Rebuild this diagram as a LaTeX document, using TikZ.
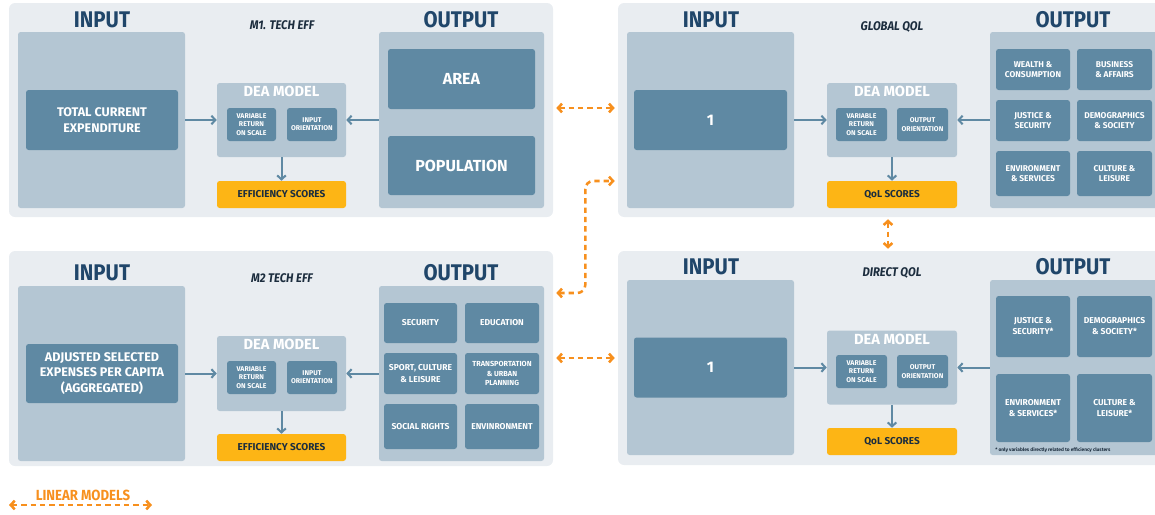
\documentclass[tikz,border=0pt]{standalone}
\usepackage{fontspec}
\setmainfont{Fira Sans}
\newfontfamily\headfont{Fira Sans}[FakeStretch=0.9]
\usetikzlibrary{arrows.meta}

\definecolor{panelbg}{HTML}{E9EDF1}
\definecolor{colbg}{HTML}{B4C6D3}
\definecolor{boxblue}{HTML}{5F89A3}
\definecolor{navy}{HTML}{20466A}
\definecolor{inkdark}{HTML}{1C2D3E}
\definecolor{scoreyel}{HTML}{FDB515}
\definecolor{linkorg}{HTML}{F7901E}

\tikzset{
  sz/.style 2 args={minimum width=#1*0.75pt, minimum height=#2*0.75pt},
  panel/.style={fill=panelbg, rounded corners=4.5pt, inner sep=0pt},
  column/.style={fill=colbg, rounded corners=2pt, inner sep=0pt},
  databox/.style={fill=boxblue, rounded corners=2pt, inner sep=0pt, align=center,
    text=white, font=\bfseries\fontsize{9.4}{11.8}\selectfont},
  catbox/.style={databox, font=\bfseries\fontsize{6.3}{7.8}\selectfont},
  subbox/.style={databox, font=\bfseries\fontsize{5.2}{6.2}\selectfont},
  scorebox/.style={fill=scoreyel, rounded corners=2pt, inner sep=0pt,
    text=inkdark, font=\bfseries\fontsize{7.5}{8.5}\selectfont},
  head/.style={anchor=base, inner sep=0pt, text=navy, font=\headfont\bfseries\fontsize{17}{19}\selectfont},
  dealabel/.style={anchor=base, inner sep=0pt, text=white, font=\bfseries\fontsize{11}{13}\selectfont},
  modelname/.style={anchor=base, inner sep=0pt, text=inkdark, font=\headfont\bfseries\itshape\fontsize{9.4}{11}\selectfont},
  flow/.style={->, draw=boxblue, line width=1.5pt},
  link/.style={<->, draw=linkorg, line width=1.9pt, dash pattern=on 4pt off 3pt}
}

\begin{document}
\begin{tikzpicture}[x=0.75pt, y=-0.75pt, >={Straight Barb[length=3pt,width=6.5pt]}]
\useasboundingbox (0,0) rectangle (1155,514);

% 四个面板
\node[panel, sz={544}{214}] (m1) at (281,110) {};
\node[panel, sz={547}{214}] (gq) at (891.5,110) {};
\node[panel, sz={544}{215}] (m2) at (281,358.5) {};
\node[panel, sz={547}{214}] (dq) at (891.5,358) {};

% M1. TECH EFF
\node[head] (m1inhead) at (102,27.3) {INPUT};
\node[head] (m1outhead) at (461,27.3) {OUTPUT};
\node[modelname] (m1name) at (282,29.3) {M1. TECH EFF};
\node[column, sz={167}{176}] (m1in) at (101.5,120) {};
\node[databox, sz={152}{60}] (m1inbox) at (102,120) {TOTAL CURRENT\\EXPENDITURE};
\node[column, sz={129}{74}] (m1dea) at (281.5,120) {};
\node[dealabel] (m1dealabel) at (281.5,96.7) {DEA MODEL};
\node[subbox, sz={49}{33}] (m1vrs) at (251.5,124.5) {VARIABLE\\RETURN\\ON SCALE};
\node[subbox, sz={50}{33}] (m1ori) at (312,124.5) {INPUT\\ORIENTATION};
\node[scorebox, sz={129}{27}] (m1score) at (281.5,194.5) {EFFICIENCY SCORES};
\node[column, sz={165}{176}] (m1out) at (461.5,120) {};
\node[databox, font=\bfseries\fontsize{12}{14}\selectfont, sz={147}{60}] (m1area) at (461.5,79) {AREA};
\node[databox, font=\bfseries\fontsize{12}{14}\selectfont, sz={147}{59}] (m1pop) at (461.5,165.5) {POPULATION};
\draw[flow] (m1in) -- (m1dea);
\draw[flow] (m1out) -- (m1dea);
\draw[flow] (m1dea) -- (m1score);

% GLOBAL QOL
\node[head] (gqinhead) at (711,27.3) {INPUT};
\node[head] (gqouthead) at (1073,27.3) {OUTPUT};
\node[modelname] (gqname) at (892,30) {GLOBAL QOL};
\node[column, sz={167}{176}] (gqin) at (710.5,120) {};
\node[databox, font=\bfseries\fontsize{11.5}{14}\selectfont, sz={153}{60}] (gqone) at (710.5,120) {1};
\node[column, sz={130}{74}] (gqdea) at (892,120) {};
\node[dealabel] (gqdealabel) at (892,96.7) {DEA MODEL};
\node[subbox, sz={51}{33}] (gqvrs) at (861.5,124.5) {VARIABLE\\RETURN\\ON SCALE};
\node[subbox, sz={51}{33}] (gqori) at (922.5,124.5) {OUTPUT\\ORIENTATION};
\node[scorebox, sz={130}{27}] (gqscore) at (892,194.5) {QoL SCORES};
\node[column, sz={170}{176}] (gqout) at (1075,120) {};
\node[catbox, sz={74}{41}] (gqwealth) at (1033,69.5) {WEALTH \&\\CONSUMPTION};
\node[catbox, sz={75}{41}] (gqbusiness) at (1114.5,69.5) {BUSINESS\\\& AFFAIRS};
\node[catbox, sz={74}{41}] (gqjustice) at (1033,120.5) {JUSTICE \&\\SECURITY};
\node[catbox, sz={75}{41}] (gqdemo) at (1114.5,120.5) {DEMOGRAPHICS\\\& SOCIETY};
\node[catbox, sz={74}{45}] (gqenv) at (1033,173.5) {ENVIRONMENT\\\& SERVICES};
\node[catbox, sz={75}{45}] (gqculture) at (1114.5,173.5) {CULTURE \&\\LEISURE};
\draw[flow] (gqin) -- (gqdea);
\draw[flow] (gqout) -- (gqdea);
\draw[flow] (gqdea) -- (gqscore);

% M2 TECH EFF
\node[head] (m2inhead) at (102,280.7) {INPUT};
\node[head] (m2outhead) at (461,280.7) {OUTPUT};
\node[modelname] (m2name) at (282,282.3) {M2 TECH EFF};
\node[column, sz={167}{175}] (m2in) at (101.5,373.5) {};
\node[databox, font=\bfseries\fontsize{9.4}{11.5}\selectfont, sz={152}{59}] (m2inbox) at (102,373.5) {ADJUSTED SELECTED\\EXPENSES PER CAPITA\\(AGGREGATED)};
\node[column, sz={129}{75}] (m2dea) at (281.5,373.5) {};
\node[dealabel] (m2dealabel) at (281.5,349) {DEA MODEL};
\node[subbox, sz={49}{33}] (m2vrs) at (251.5,377.5) {VARIABLE\\RETURN\\ON SCALE};
\node[subbox, sz={50}{33}] (m2ori) at (312,377.5) {INPUT\\ORIENTATION};
\node[scorebox, sz={129}{27}] (m2score) at (281.5,447.5) {EFFICIENCY SCORES};
\node[column, sz={165}{175}] (m2out) at (461.5,373.5) {};
\node[catbox, font=\bfseries\fontsize{6.4}{8.4}\selectfont, sz={73}{40}] (m2security) at (420.5,323) {SECURITY};
\node[catbox, font=\bfseries\fontsize{6.4}{8.4}\selectfont, sz={74}{40}] (m2education) at (502,323) {EDUCATION};
\node[catbox, font=\bfseries\fontsize{6.4}{8.4}\selectfont, sz={73}{41}] (m2sport) at (420.5,373.5) {SPORT, CULTURE\\\& LEISURE};
\node[catbox, font=\bfseries\fontsize{5.5}{7.4}\selectfont, sz={74}{41}] (m2transport) at (502,373.5) {TRANSPORTATION\\\& URBAN\\PLANNING};
\node[catbox, font=\bfseries\fontsize{6.4}{8.4}\selectfont, sz={73}{45}] (m2social) at (420.5,426.5) {SOCIAL RIGHTS};
\node[catbox, font=\bfseries\fontsize{6.4}{8.4}\selectfont, sz={74}{45}] (m2environment) at (502,426.5) {ENVINRONMENT};
\draw[flow] (m2in) -- (m2dea);
\draw[flow] (m2out) -- (m2dea);
\draw[flow] (m2dea) -- (m2score);

% DIRECT QOL
\node[head] (dqinhead) at (711,274.3) {INPUT};
\node[head] (dqouthead) at (1073,274.3) {OUTPUT};
\node[modelname] (dqname) at (892,276.7) {DIRECT QOL};
\node[column, sz={167}{175}] (dqin) at (710.5,367.5) {};
\node[databox, font=\bfseries\fontsize{11.5}{14}\selectfont, sz={153}{60}] (dqone) at (710.5,367.5) {1};
\node[column, sz={130}{74}] (dqdea) at (892,367.5) {};
\node[dealabel] (dqdealabel) at (892,344.3) {DEA MODEL};
\node[subbox, sz={51}{33}] (dqvrs) at (861.5,371.5) {VARIABLE\\RETURN\\ON SCALE};
\node[subbox, sz={51}{33}] (dqori) at (922.5,371.5) {OUTPUT\\ORIENTATION};
\node[scorebox, sz={130}{27}] (dqscore) at (892,441.5) {QoL SCORES};
\node[column, sz={170}{175}] (dqout) at (1075,367.5) {};
\node[catbox, font=\bfseries\fontsize{6.4}{8.2}\selectfont, sz={74}{61}] (dqjustice) at (1033,326.5) {JUSTICE \&\\SECURITY*};
\node[catbox, font=\bfseries\fontsize{6.4}{8.2}\selectfont, sz={75}{61}] (dqdemo) at (1114.5,326.5) {DEMOGRAPHICS\\\& SOCIETY*};
\node[catbox, font=\bfseries\fontsize{6.4}{8.2}\selectfont, sz={74}{68}] (dqenv) at (1033,408) {ENVIRONMENT\\\& SERVICES*};
\node[catbox, font=\bfseries\fontsize{6.4}{8.2}\selectfont, sz={75}{68}] (dqculture) at (1114.5,408) {CULTURE \&\\LEISURE*};
\node[anchor=base west, inner sep=0pt, text=inkdark, font=\bfseries\fontsize{3.6}{4}\selectfont] (dqnote) at (995,451.5) {* only variables directly related to efficiency clusters};
\draw[flow] (dqin) -- (dqdea);
\draw[flow] (dqout) -- (dqdea);
\draw[flow] (dqdea) -- (dqscore);

% 线性模型之间的连接
\draw[link, shorten <=2.25pt, shorten >=2.25pt] (m1.east |- 0,108) -- (gq.west |- 0,108);
\draw[link, rounded corners=6pt, shorten <=2.25pt, shorten >=2.25pt] (m2.east |- 0,293) -- ++(32,0) |- (gq.west |- 0,181);
\draw[link, shorten <=2.25pt, shorten >=2.25pt] (m2.east |- 0,358) -- (dq.west |- 0,358);
\draw[link, shorten <=1.5pt, shorten >=1.5pt] (gq.south -| 888,0) -- (dq.north -| 888,0);

% 图例
\node[anchor=base, inner sep=0pt, text=linkorg, font=\headfont\bfseries\fontsize{11}{12}\selectfont] (legtext) at (83,500.7) {LINEAR MODELS};
\coordinate (legL) at (9,505);
\coordinate (legR) at (152,505);
\draw[link] (legL) -- (legR);
\end{tikzpicture}
\end{document}
